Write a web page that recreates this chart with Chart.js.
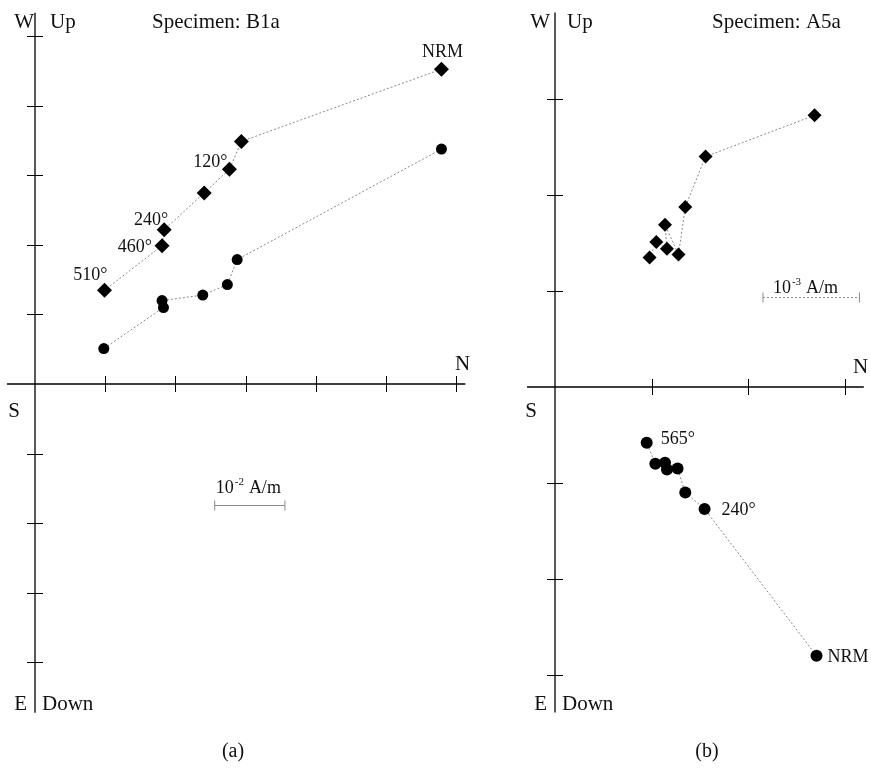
<!DOCTYPE html>
<html>
<head>
<meta charset="utf-8">
<script src="https://cdn.jsdelivr.net/npm/chart.js@4.4.0/dist/chart.umd.min.js"></script>
<style>
  html, body { margin: 0; padding: 0; background: #fff; }
  body { width: 871px; height: 769px; position: relative; overflow: hidden; }
  .panel { position: absolute; top: 0; }
  #wrapA { left: 0; }
  #wrapB { left: 480px; }
</style>
</head>
<body>
<div class="panel" id="wrapA"><canvas id="chartA" width="480" height="769"></canvas></div>
<div class="panel" id="wrapB"><canvas id="chartB" width="391" height="769"></canvas></div>
<script>
// Specimen B1a (units of 1e-2 A/m): N on x, W (diamonds) and Up (circles) on y
const b1aNorthH = [5.79, 2.94, 2.77, 2.41, 1.84, 1.81, 0.99];
const b1aWest   = [4.53, 3.49, 3.09, 2.75, 2.22, 1.99, 1.35];
const b1aNorthV = [5.79, 2.88, 2.74, 2.39, 1.81, 1.83, 0.98];
const b1aUp     = [3.38, 1.79, 1.43, 1.28, 1.20, 1.10, 0.51];
const b1aSteps  = ['NRM', '', '120°', '', '240°', '460°', '510°'];
const b1aTicksX = [1, 2, 3, 4, 5, 6];
const b1aTicksY = [-4, -3, -2, -1, 1, 2, 3, 4, 5];

// Specimen A5a (units of 1e-3 A/m)
const a5aNorthH = [2.69, 1.56, 1.35, 1.28, 1.14, 1.16, 1.05, 0.98];
const a5aWest   = [2.83, 2.40, 1.875, 1.38, 1.69, 1.44, 1.51, 1.35];
const a5aNorthV = [2.71, 1.55, 1.35, 1.27, 1.14, 1.16, 1.04, 0.95];
const a5aUp     = [-2.80, -1.27, -1.10, -0.85, -0.79, -0.86, -0.80, -0.58];
const a5aSteps  = ['NRM', '240°', '', '', '', '', '', '565°'];
const a5aTicksX = [1, 2, 3];
const a5aTicksY = [-3, -2, -1, 1, 2, 3];

const serif = '"Liberation Serif", "DejaVu Serif", serif';

function toPoints(xs, ys) {
    return xs.map((v, i) => ({ x: v, y: ys[i] }));
}

function series(xs, ys, style, radius) {
    return {
        data: toPoints(xs, ys),
        showLine: true,
        borderColor: '#8a8a8a',
        borderWidth: 1,
        borderDash: [2, 2],
        pointStyle: style,
        pointRadius: radius,
        pointBackgroundColor: '#000',
        pointBorderColor: '#000',
        pointBorderWidth: 0,
        clip: false
    };
}

// draws the Zijderveld axes, labels and scale bar
function zijPlugin(cfg) {
    return {
        id: 'zij' + cfg.name,
        beforeDatasetsDraw(chart) {
            const { ctx, scales: { x, y } } = chart;
            const x0 = x.getPixelForValue(0);
            const y0 = y.getPixelForValue(0);
            ctx.save();
            ctx.strokeStyle = '#000';
            ctx.lineWidth = 1.3;
            ctx.beginPath();
            ctx.moveTo(x.getPixelForValue(cfg.hRange[0]), y0);
            ctx.lineTo(x.getPixelForValue(cfg.hRange[1]), y0);
            ctx.moveTo(x0, y.getPixelForValue(cfg.vRange[1]));
            ctx.lineTo(x0, y.getPixelForValue(cfg.vRange[0]));
            ctx.stroke();
            ctx.lineWidth = 1;
            ctx.beginPath();
            cfg.ticksX.forEach(t => {
                const px = Math.round(x.getPixelForValue(t)) + 0.5;
                ctx.moveTo(px, y0 - 8);
                ctx.lineTo(px, y0 + 8);
            });
            cfg.ticksY.forEach(t => {
                const py = Math.round(y.getPixelForValue(t)) + 0.5;
                ctx.moveTo(x0 - 8, py);
                ctx.lineTo(x0 + 8, py);
            });
            ctx.stroke();

            // scale bar, one tick long
            const bx1 = x.getPixelForValue(cfg.bar[0]);
            const bx2 = x.getPixelForValue(cfg.bar[0] + 1);
            const by = Math.round(y.getPixelForValue(cfg.bar[1])) + 0.5;
            ctx.strokeStyle = '#8a8a8a';
            ctx.setLineDash(cfg.barDash);
            ctx.beginPath();
            ctx.moveTo(bx1, by);
            ctx.lineTo(bx2, by);
            ctx.stroke();
            ctx.setLineDash([]);
            ctx.beginPath();
            ctx.moveTo(bx1, by - 5); ctx.lineTo(bx1, by + 5);
            ctx.moveTo(bx2, by - 5); ctx.lineTo(bx2, by + 5);
            ctx.stroke();

            ctx.fillStyle = '#111';
            ctx.textBaseline = 'alphabetic';
            ctx.font = '18px ' + serif;
            ctx.textAlign = 'left';
            ctx.fillText('10', bx1 + cfg.unitDx, by + cfg.unitDy);
            const w10 = ctx.measureText('10').width;
            ctx.font = '11px ' + serif;
            ctx.fillText(cfg.exp, bx1 + cfg.unitDx + w10 + 1, by + cfg.unitDy - 8);
            const wExp = ctx.measureText(cfg.exp).width;
            ctx.font = '18px ' + serif;
            ctx.fillText('A/m', bx1 + cfg.unitDx + w10 + wExp + 6, by + cfg.unitDy);

            // axis letters
            ctx.font = '21px ' + serif;
            ctx.textAlign = 'right';
            ctx.fillText('W', x0 + cfg.wDx, 28);
            ctx.fillText('E', x0 - 8, 710);
            ctx.textAlign = 'left';
            ctx.fillText('Up', x0 + cfg.upDx, 28);
            ctx.fillText('Down', x0 + 7, 710);
            ctx.fillText(cfg.title, cfg.titleX, 28);
            ctx.textAlign = 'center';
            ctx.fillText('S', cfg.sX, 417);
            ctx.textAlign = 'left';
            ctx.fillText('N', cfg.nX, y0 - 14);
            ctx.textAlign = 'center';
            ctx.font = '20px ' + serif;
            ctx.fillText(cfg.panel, cfg.panelX, 757);
            ctx.restore();
        },
        afterDatasetsDraw(chart) {
            const { ctx } = chart;
            ctx.save();
            ctx.fillStyle = '#111';
            ctx.font = '18px ' + serif;
            ctx.textBaseline = 'alphabetic';
            cfg.stepLabels.forEach(lb => {
                const el = chart.getDatasetMeta(lb.set).data[lb.i];
                const text = cfg.steps[lb.i];
                if (!text) return;
                ctx.textAlign = lb.align;
                ctx.fillText(text, el.x + lb.dx, el.y + lb.dy);
            });
            ctx.restore();
        }
    };
}

function makeChart(id, ds, range, pad, plugin) {
    return new Chart(document.getElementById(id), {
        type: 'scatter',
        data: { datasets: ds },
        options: {
            responsive: false,
            animation: false,
            devicePixelRatio: 1,
            layout: { padding: pad, autoPadding: false },
            plugins: { legend: { display: false }, tooltip: { enabled: false } },
            scales: {
                x: { type: 'linear', display: false, min: range.x[0], max: range.x[1] },
                y: { type: 'linear', display: false, min: range.y[0], max: range.y[1] }
            }
        },
        plugins: [plugin]
    });
}

// Panel (a): origin at (35, 384), 70.2 px per unit across, 69.5 px per unit up
makeChart('chartA',
    [series(b1aNorthH, b1aWest, 'rectRot', 7.5), series(b1aNorthV, b1aUp, 'circle', 5.5)],
    { x: [-0.45, 6.2], y: [-4.75, 5.2] },
    { left: 35 - 0.45 * 70.2, right: 480 - (35 + 6.2 * 70.2), top: 384 - 5.2 * 69.5, bottom: 769 - (384 + 4.75 * 69.5) },
    zijPlugin({
        name: 'A', title: 'Specimen: B1a', titleX: 152, panel: '(a)', panelX: 233,
        hRange: [-0.4, 6.13], vRange: [-4.73, 5.34],
        ticksX: b1aTicksX, ticksY: b1aTicksY,
        bar: [2.56, -1.74], barDash: [], exp: '-2', unitDx: 1, unitDy: -13,
        wDx: -1, upDx: 15, sX: 14, nX: 455,
        steps: b1aSteps,
        stepLabels: [
            { set: 0, i: 0, dx: 1, dy: -12, align: 'center' },
            { set: 0, i: 2, dx: -2, dy: -2, align: 'right' },
            { set: 0, i: 4, dx: 4, dy: -5, align: 'right' },
            { set: 0, i: 5, dx: -10, dy: 6, align: 'right' },
            { set: 0, i: 6, dx: 3, dy: -10, align: 'right' }
        ]
    }));

// Panel (b): origin at (555, 387) -> local x 75, 96.5 px per unit across, 96 px up
makeChart('chartB',
    [series(a5aNorthH, a5aWest, 'rectRot', 7), series(a5aNorthV, a5aUp, 'circle', 6)],
    { x: [-0.7, 3.2], y: [-3.5, 3.9] },
    { left: 75 - 0.7 * 96.5, right: 391 - (75 + 3.2 * 96.5), top: 387 - 3.9 * 96, bottom: 769 - (387 + 3.5 * 96) },
    zijPlugin({
        name: 'B', title: 'Specimen: A5a', titleX: 232, panel: '(b)', panelX: 227,
        hRange: [-0.29, 3.2], vRange: [-3.39, 3.9],
        ticksX: a5aTicksX, ticksY: a5aTicksY,
        bar: [2.155, 0.94], barDash: [2, 2], exp: '-3', unitDx: 10, unitDy: -5,
        wDx: -5, upDx: 12, sX: 51, nX: 373,
        steps: a5aSteps,
        stepLabels: [
            { set: 1, i: 0, dx: 11, dy: 6, align: 'left' },
            { set: 1, i: 1, dx: 17, dy: 6, align: 'left' },
            { set: 1, i: 7, dx: 14, dy: 1, align: 'left' }
        ]
    }));
</script>
</body>
</html>
